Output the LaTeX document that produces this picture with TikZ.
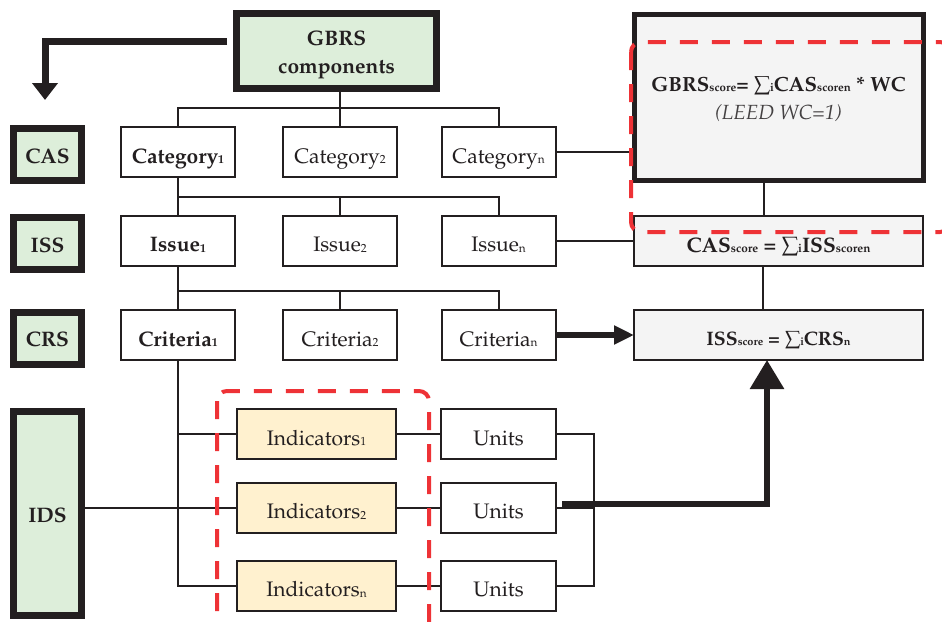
\documentclass[tikz,border=0pt]{standalone}
\usepackage[T1]{fontenc}
\usepackage{mathpazo}
\usetikzlibrary{arrows.meta,calc}
\definecolor{ink}{HTML}{231F20}
\definecolor{lgreen}{HTML}{DDEEDA}
\definecolor{lyellow}{HTML}{FFF1CF}
\definecolor{lgray}{HTML}{F4F4F4}
\definecolor{dred}{HTML}{EE3236}
\newcommand{\sbs}[1]{\raisebox{-0.1ex}{\scalebox{0.56}{#1}}}
\newcommand{\mysum}{\ensuremath{\sum}}
\begin{document}
\begin{tikzpicture}[x=1pt,y=-1pt,
  every node/.style={inner sep=0pt, outer sep=0pt, text=ink, font=\fontsize{21}{25}\selectfont},
  box/.style={draw=ink, line width=2pt, fill=white, minimum width=114pt, minimum height=50pt, text height=22pt, text depth=0pt},
  indbox/.style={box, fill=lyellow, minimum width=159pt},
  unitbox/.style={box, minimum width=115pt},
  lab/.style={draw=ink, line width=7pt, fill=lgreen, minimum width=68pt, minimum height=52pt, text height=17pt, text depth=0pt, font=\fontsize{21}{25}\selectfont\bfseries},
  scorebox/.style={draw=ink, line width=2pt, fill=lgray, minimum width=289pt, minimum height=50pt},
  wire/.style={draw=ink, line width=2pt},
  bigarrow/.style={draw=ink, line width=6pt, -{Triangle[width=33pt,length=29pt]}},
  midarrow/.style={draw=ink, line width=6pt, -{Triangle[width=18pt,length=20pt]}},
  toparrow/.style={draw=ink, line width=7pt, -{Triangle[width=25pt,length=17pt]}},
  reddash/.style={draw=dred, line width=4pt, dash pattern=on 18pt off 14pt, rounded corners=10pt}
]
\useasboundingbox (0,0) rectangle (942,621);
\clip (0,0) rectangle (942,621);

% left labels
\node[lab] (cas) at (47.5,154.5) {CAS};
\node[lab] (iss) at (47.5,243.5) {ISS};
\node[lab] (crs) at (47.5,338) {CRS};
\node[lab, minimum height=204pt] (ids) at (47.5,513.5) {IDS};

% top
\node[lab, minimum width=200pt, minimum height=75pt, align=center, text height=45pt, text depth=0pt, font=\fontsize{21}{28}\selectfont\bfseries] (gbrs) at (336.5,51) {GBRS\\components};

% categories
\node[box, font=\fontsize{21}{25}\selectfont\bfseries] (cat1) at (178,152) {Category\sbs{1}};
\node[box] (cat2) at (340,152) {Category\sbs{2}};
\node[box] (catn) at (498.5,152) {Category\sbs{n}};
% issues
\node[box, font=\fontsize{21}{25}\selectfont\bfseries] (iss1) at (178,240.5) {Issue\sbs{1}};
\node[box] (iss2) at (340,240.5) {Issue\sbs{2}};
\node[box] (issn) at (498.5,240.5) {Issue\sbs{n}};
% criteria
\node[box, font=\fontsize{21}{25}\selectfont\bfseries] (crs1) at (178,335) {Criteria\sbs{1}};
\node[box] (crs2) at (340,335) {Criteria\sbs{2}};
\node[box] (crsn) at (498.5,335) {Criteria\sbs{n}};
% indicators and units
\node[indbox] (ind1) at (316.5,434) {Indicators\sbs{1}};
\node[indbox] (ind2) at (316.5,507.5) {Indicators\sbs{2}};
\node[indbox] (indn) at (316.5,585.5) {Indicators\sbs{n}};
\node[unitbox] (un1) at (498.5,434) {Units};
\node[unitbox] (un2) at (498.5,507.5) {Units};
\node[unitbox] (unn) at (498.5,585.5) {Units};

% score boxes
\node[scorebox, line width=5pt, minimum height=166pt, align=center, text height=44pt, text depth=0pt, font=\fontsize{20.5}{28}\selectfont\bfseries] (gbrss) at (778.5,97)
  {GBRS\sbs{score}= \mysum\sbs{i}CAS\sbs{scoren} * WC\\{\mdseries\itshape\color{ink!85}(LEED WC=1)}};
\node[scorebox, text height=22pt, text depth=0pt, font=\fontsize{21}{24}\selectfont\bfseries] (cass) at (778.5,241) {CAS\sbs{score} = \mysum\sbs{i}ISS\sbs{scoren}};
\node[scorebox, text height=20pt, text depth=0pt, font=\fontsize{19.5}{22}\selectfont\bfseries] (isss) at (778.5,335) {ISS\sbs{score} = \mysum\sbs{i}CRS\sbs{n}};

% tree wires
\draw[wire] (gbrs.south -| cat2.north) -- (cat2.north);
\draw[wire] (cat1.north) -- ++(0,-19) -| (catn.north);
\draw[wire] (cat1.south) -- (iss1.north);
\draw[wire] (cat1.south) ++(0,20) -| (iss2.north);
\draw[wire] (cat1.south) ++(0,20) -| (issn.north);
\draw[wire] (iss1.south) -- (crs1.north);
\draw[wire] (iss1.south) ++(0,25) -| (crs2.north);
\draw[wire] (iss1.south) ++(0,25) -| (crsn.north);
\draw[wire] (crs1.south) |- (indn.west);
\draw[wire] (crs1.south |- ind1.west) -- (ind1.west);
\draw[wire] (crs1.south |- ind2.west) -- (ind2.west);
\draw[wire] (ids.east |- ind2.west) -- (ind2.west);
\draw[wire] (ind1.east) -- (un1.west);
\draw[wire] (ind2.east) -- (un2.west);
\draw[wire] (indn.east) -- (unn.west);
\draw[wire] (un1.east) -- ++(38,0) coordinate (ubus) |- (unn.east);
\draw[wire] (un2.east) -- (un2.east -| ubus);

% right side wires
\draw[wire] (catn.east) -- (catn.east -| gbrss.west);
\draw[wire] (issn.east) -- (issn.east -| cass.west);
\draw[wire] ($(gbrss.south)+(-14.5,0)$) -- ($(cass.north)+(-14.5,0)$);
\draw[wire] ($(cass.south)+(-15.5,0)$) -- ($(isss.north)+(-15.5,0)$);

% thick arrows
\coordinate (castip) at (45,100);
\draw[toparrow] ($(gbrs.west)+(-9.5,-10)$) -| (castip);
\draw[midarrow] (crsn.east) -- (isss.west);
\draw[bigarrow] ($(un2.east)+(6,-4)$) -| ($(isss.south)+(-11.5,0)$);

% red dashed groupings
\draw[reddash] (631,42) rectangle (950,232);
\draw[reddash] (217,391) rectangle (429,650);
\end{tikzpicture}
\end{document}
